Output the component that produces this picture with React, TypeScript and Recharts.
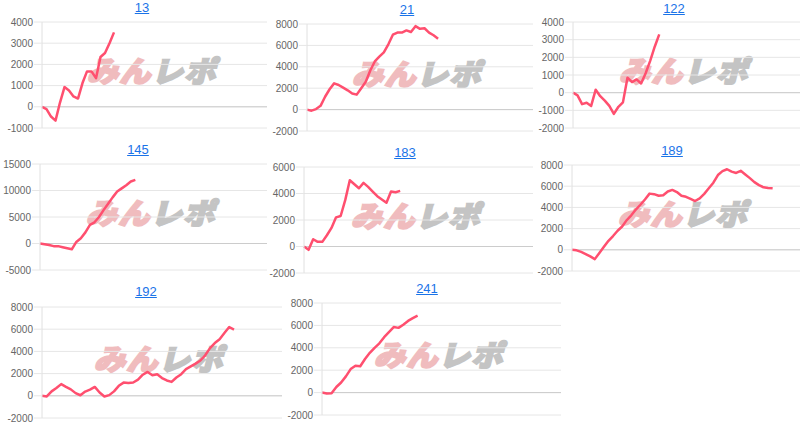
import React from 'react';
import { LineChart, Line, XAxis, YAxis, CartesianGrid, ReferenceLine } from 'recharts';

// every panel shares the same x range, the lines just stop where the data ends
const X_MAX = 50;

const TITLES = ['13', '21', '122', '145', '183', '189', '192', '241'];

const SERIES_13 = [0, -110, -460, -650, 200, 930, 770, 490, 390, 1120, 1670, 1670, 1350, 2350, 2540, 3000, 3510];
const SERIES_21 = [0, -100, 50, 350, 1200, 1900, 2450, 2300, 2050, 1800, 1500, 1400, 2000, 2600, 3650, 4500, 4950, 5350, 6100, 7000, 7200, 7200, 7400, 7250, 7800, 7550, 7600, 7200, 6950, 6620];
const SERIES_122 = [0, -150, -650, -570, -750, 170, -200, -450, -750, -1200, -800, -550, 850, 600, 750, 520, 1100, 1800, 2600, 3300];
const SERIES_145 = [0, -150, -300, -500, -500, -700, -900, -1100, 300, 1000, 2100, 3500, 4000, 5000, 6300, 7500, 8700, 9800, 10400, 11000, 11700, 12000];
const SERIES_183 = [0, -250, 550, 350, 350, 850, 1400, 2200, 2300, 3500, 5000, 4700, 4400, 4800, 4500, 4150, 3800, 3550, 3300, 4150, 4100, 4200];
const SERIES_189 = [0, -50, -200, -400, -620, -880, -300, 280, 850, 1300, 1800, 2200, 2800, 3250, 3800, 4250, 4750, 5300, 5250, 5100, 5150, 5500, 5650, 5450, 5100, 5000, 4800, 4600, 4850, 5280, 5800, 6330, 7050, 7420, 7600, 7380, 7250, 7450, 7100, 6760, 6380, 6100, 5900, 5830, 5800];
const SERIES_192 = [0, -60, 400, 700, 1050, 800, 580, 240, 50, 380, 550, 800, 300, -60, 60, 400, 900, 1190, 1150, 1200, 1450, 1900, 2150, 1850, 1940, 1600, 1380, 1250, 1650, 1950, 2400, 2650, 2900, 3180, 3650, 4300, 4750, 5100, 5650, 6200, 5970];
const SERIES_241 = [0, -80, -50, 500, 900, 1450, 2100, 2400, 2350, 3000, 3550, 4000, 4400, 4950, 5400, 5850, 5780, 6060, 6400, 6650, 6870];

const TICKS_13 = [-1000, 0, 1000, 2000, 3000, 4000];
const TICKS_21 = [-2000, 0, 2000, 4000, 6000, 8000];
const TICKS_122 = [-2000, -1000, 0, 1000, 2000, 3000, 4000];
const TICKS_145 = [-5000, 0, 5000, 10000, 15000];
const TICKS_183 = [-2000, 0, 2000, 4000, 6000];
const TICKS_189 = [-2000, 0, 2000, 4000, 6000, 8000];
const TICKS_192 = [-2000, 0, 2000, 4000, 6000, 8000];
const TICKS_241 = [-2000, 0, 2000, 4000, 6000, 8000];

const ALL_SERIES = [SERIES_13, SERIES_21, SERIES_122, SERIES_145, SERIES_183, SERIES_189, SERIES_192, SERIES_241];
const ALL_TICKS = [TICKS_13, TICKS_21, TICKS_122, TICKS_145, TICKS_183, TICKS_189, TICKS_192, TICKS_241];

// plot boxes in page pixels
type Box = { left: number; right: number; top: number; bottom: number; titleX: number; titleTop: number };
const BOXES: Box[] = [
  { left: 42, right: 267, top: 22, bottom: 128, titleX: 142, titleTop: 0 },
  { left: 307, right: 533, top: 24, bottom: 131, titleX: 407, titleTop: 1.5 },
  { left: 573, right: 800, top: 22, bottom: 128, titleX: 674, titleTop: 0.5 },
  { left: 40, right: 267, top: 164, bottom: 270, titleX: 138, titleTop: 141.5 },
  { left: 304, right: 533, top: 167, bottom: 273, titleX: 405, titleTop: 144.5 },
  { left: 572, right: 800, top: 165, bottom: 271, titleX: 672, titleTop: 142.5 },
  { left: 42, right: 282, top: 307, bottom: 418, titleX: 146, titleTop: 283.5 },
  { left: 322, right: 561, top: 303, bottom: 415, titleX: 427, titleTop: 280.5 },
];

const AXIS_W = 45;
const PAD = 6;
const LINE_COLOR = '#ff4f6f';
const GRID = '#e6e6e6';

function Watermark({ box }: { box: Box }) {
  const cx = (box.left + box.right) / 2;
  const cy = (box.top + box.bottom) / 2 - 6;
  return (
    <div
      style={{
        position: 'absolute',
        left: cx - 90,
        width: 180,
        top: cy - 20,
        height: 40,
        lineHeight: '40px',
        textAlign: 'center',
        fontFamily: '"Noto Sans CJK JP", sans-serif',
        fontWeight: 900,
        fontSize: 29,
        letterSpacing: 1,
        whiteSpace: 'nowrap',
        transform: 'skewX(-14deg) scaleX(1.08)',
      }}
    >
      <span style={{ color: '#f0bcbe', WebkitTextStroke: '2px #f0bcbe' }}>みん</span>
      <span style={{ color: '#c4c4c4', WebkitTextStroke: '2px #c4c4c4' }}>レポ</span>
    </div>
  );
}

function Panel({ title, values, ticks, box }: { title: string; values: number[]; ticks: number[]; box: Box }) {
  const data = values.map((v, i) => ({ i, v }));
  const plotW = box.right - box.left;
  const plotH = box.bottom - box.top;
  const lo = ticks[0];
  const hi = ticks[ticks.length - 1];

  return (
    <>
      <div
        style={{
          position: 'absolute',
          left: box.titleX - 40,
          width: 80,
          top: box.titleTop,
          textAlign: 'center',
          fontSize: 13,
          lineHeight: '15px',
          color: '#1a73e8',
          textDecoration: 'underline',
        }}
      >
        {title}
      </div>
      <Watermark box={box} />
      <div style={{ position: 'absolute', left: box.left - AXIS_W, top: box.top - PAD }}>
        <LineChart
          width={AXIS_W + plotW}
          height={plotH + PAD * 2}
          data={data}
          margin={{ top: PAD, right: 0, bottom: PAD, left: 0 }}
        >
          <CartesianGrid horizontal vertical={false} stroke={GRID} />
          <XAxis type="number" dataKey="i" domain={[0, X_MAX]} hide />
          <YAxis
            type="number"
            domain={[lo, hi]}
            ticks={ticks}
            interval={0}
            width={AXIS_W}
            tickSize={8}
            tickMargin={1}
            axisLine={{ stroke: '#e0e0e0' }}
            tickLine={{ stroke: GRID }}
            tick={{ fontSize: 10, fill: '#666' }}
          />
          <ReferenceLine y={0} stroke="#cccccc" />
          <Line
            type="linear"
            dataKey="v"
            stroke={LINE_COLOR}
            strokeWidth={2.5}
            strokeLinejoin="round"
            dot={false}
            isAnimationActive={false}
          />
        </LineChart>
      </div>
    </>
  );
}

export default function App() {
  return (
    <div
      style={{
        position: 'absolute',
        left: 0,
        top: 0,
        width: 800,
        height: 428,
        overflow: 'hidden',
        background: '#fff',
        fontFamily: '"Liberation Sans", Arial, sans-serif',
      }}
    >
      {TITLES.map((t, k) => (
        <Panel key={t} title={t} values={ALL_SERIES[k]} ticks={ALL_TICKS[k]} box={BOXES[k]} />
      ))}
    </div>
  );
}
